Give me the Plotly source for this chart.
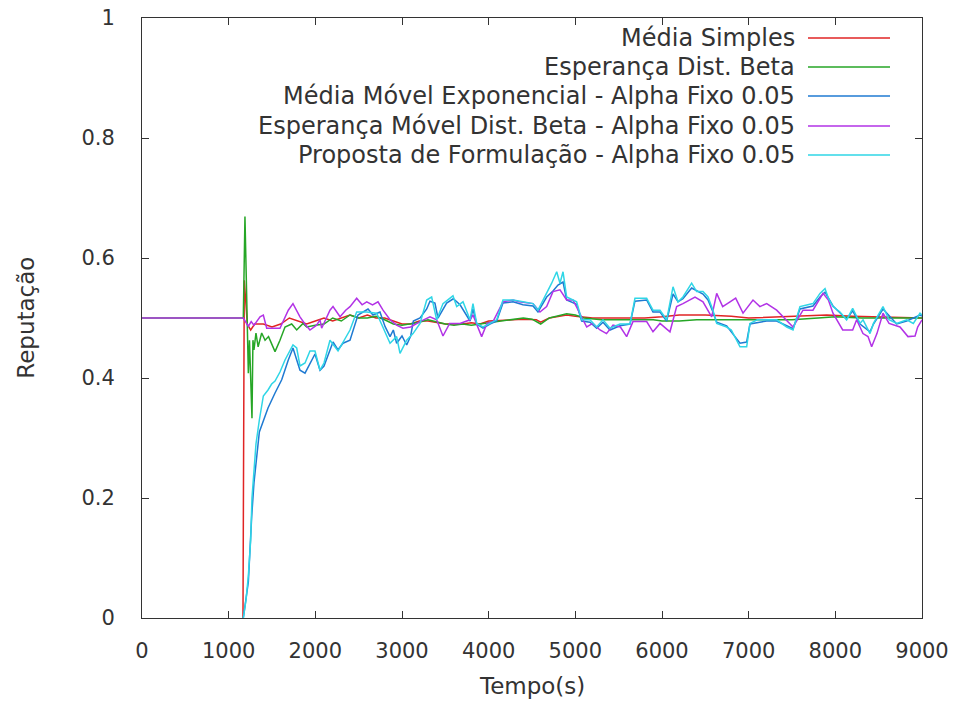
import plotly.graph_objects as go

# ---------------- data ----------------
series_names = [
    "Média Simples",
    "Esperança Dist. Beta",
    "Média Móvel Exponencial - Alpha Fixo 0.05",
    "Esperança Móvel Dist. Beta - Alpha Fixo 0.05",
    "Proposta de Formulação - Alpha Fixo 0.05",
]

t_media = [1165, 1180, 1215, 1254, 1300, 1400, 1500, 1600, 1700, 1800, 1900, 2000, 2100, 2200,
           2300, 2400, 2500, 2600, 2700, 2800, 2900, 3000, 3100, 3200, 3300, 3400, 3500, 3600,
           3700, 3800, 3900, 4000, 4200, 4400, 4550, 4600, 4700, 4800, 4900, 5000, 5200, 5400,
           5600, 5800, 6000, 6200, 6500, 6800, 7000, 7300, 7600, 7900, 8200, 8500, 8800, 9000]
v_media = [0.0, 0.563, 0.49, 0.48, 0.49, 0.49, 0.485, 0.49, 0.5, 0.495, 0.49, 0.495, 0.5, 0.495,
           0.5, 0.505, 0.5, 0.505, 0.5, 0.5, 0.495, 0.49, 0.49, 0.495, 0.495, 0.493, 0.49, 0.49,
           0.49, 0.492, 0.49, 0.495, 0.497, 0.498, 0.497, 0.493, 0.5, 0.503, 0.505, 0.503, 0.5, 0.5,
           0.5, 0.5, 0.502, 0.505, 0.505, 0.503, 0.5, 0.502, 0.503, 0.505, 0.503, 0.502, 0.5, 0.5]

t_beta = [0, 1169, 1188, 1215, 1227, 1240, 1254, 1269, 1280, 1292, 1315, 1340, 1381, 1420, 1460,
          1496, 1535, 1592, 1650, 1727, 1785, 1858, 1900, 2000, 2100, 2200, 2300, 2400, 2500,
          2600, 2700, 2800, 2900, 3000, 3100, 3200, 3300, 3400, 3500, 3600, 3700, 3800, 3900,
          4000, 4200, 4400, 4500, 4600, 4700, 4800, 4900, 5000, 5100, 5300, 5500, 5700, 5900,
          6000, 6200, 6400, 6600, 6800, 7000, 7200, 7500, 7800, 8000, 8300, 8600, 9000]
v_beta = [0.5, 0.5, 0.669, 0.475, 0.408, 0.463, 0.397, 0.333, 0.463, 0.447, 0.475, 0.452, 0.475,
          0.463, 0.469, 0.458, 0.444, 0.463, 0.485, 0.49, 0.48, 0.491, 0.485, 0.488, 0.49, 0.5,
          0.495, 0.505, 0.5, 0.5, 0.503, 0.497, 0.49, 0.488, 0.49, 0.493, 0.497, 0.493, 0.49,
          0.488, 0.49, 0.488, 0.49, 0.493, 0.497, 0.5, 0.498, 0.49, 0.5, 0.503, 0.507, 0.505,
          0.5, 0.497, 0.497, 0.498, 0.497, 0.495, 0.495, 0.497, 0.497, 0.497, 0.498, 0.497,
          0.497, 0.5, 0.502, 0.5, 0.5, 0.5]

t_mme = [1169, 1227, 1266, 1292, 1354, 1400, 1454, 1535, 1612, 1688, 1742, 1823, 1881, 1996,
         2054, 2100, 2204, 2262, 2319, 2400, 2435, 2492, 2608, 2665, 2746, 2804, 2862, 2900,
         2938, 3000, 3054, 3100, 3131, 3208, 3285, 3323, 3380, 3415, 3515, 3592, 3670, 3785,
         3819, 3862, 3935, 4015, 4093, 4165, 4281, 4396, 4512, 4569, 4669, 4742, 4800, 4858,
         4900, 5015, 5073, 5169, 5246, 5319, 5400, 5515, 5631, 5688, 5823, 5896, 5977, 6054,
         6127, 6185, 6242, 6342, 6473, 6531, 6588, 6631, 6746, 6900, 6977, 7015, 7208, 7323,
         7439, 7512, 7592, 7742, 7823, 7881, 7973, 8054, 8130, 8200, 8285, 8400, 8440, 8550,
         8708, 8823, 8977, 9000]
v_mme = [0.0, 0.06, 0.17, 0.225, 0.31, 0.33, 0.35, 0.375, 0.397, 0.43, 0.45, 0.413, 0.408, 0.44,
         0.413, 0.42, 0.46, 0.447, 0.458, 0.463, 0.48, 0.505, 0.515, 0.505, 0.51, 0.486, 0.469,
         0.48, 0.458, 0.47, 0.455, 0.47, 0.495, 0.5, 0.515, 0.528, 0.525, 0.5, 0.525, 0.532,
         0.522, 0.495, 0.515, 0.49, 0.483, 0.49, 0.495, 0.525, 0.527, 0.522, 0.52, 0.51, 0.535,
         0.545, 0.555, 0.56, 0.53, 0.523, 0.495, 0.493, 0.483, 0.493, 0.48, 0.487, 0.49, 0.528,
         0.53, 0.51, 0.51, 0.495, 0.54, 0.527, 0.532, 0.55, 0.54, 0.53, 0.51, 0.493, 0.487,
         0.458, 0.46, 0.49, 0.495, 0.495, 0.487, 0.482, 0.515, 0.52, 0.535, 0.543, 0.52, 0.508,
         0.498, 0.512, 0.49, 0.477, 0.49, 0.515, 0.49, 0.495, 0.505, 0.503]

t_emb = [0, 1169, 1227, 1260, 1292, 1362, 1400, 1439, 1592, 1650, 1688, 1742, 1823, 1880, 1938,
         2015, 2054, 2073, 2169, 2204, 2285, 2350, 2400, 2477, 2540, 2593, 2660, 2723, 2781,
         2862, 2938, 3011, 3100, 3208, 3323, 3400, 3473, 3550, 3669, 3785, 3819, 3919, 3980,
         4050, 4165, 4281, 4350, 4512, 4592, 4669, 4742, 4823, 4900, 4973, 5054, 5131, 5200,
         5285, 5360, 5435, 5520, 5592, 5665, 5823, 5896, 5977, 6092, 6169, 6242, 6381, 6473,
         6573, 6631, 6700, 6785, 6850, 6935, 7050, 7130, 7208, 7323, 7396, 7512, 7627, 7742,
         7858, 7920, 7973, 8085, 8200, 8246, 8319, 8377, 8419, 8480, 8550, 8620, 8746, 8838,
         8920, 8950, 9000]
v_emb = [0.5, 0.5, 0.486, 0.494, 0.488, 0.502, 0.505, 0.483, 0.483, 0.502, 0.513, 0.524, 0.502,
         0.49, 0.48, 0.488, 0.497, 0.483, 0.513, 0.519, 0.502, 0.513, 0.519, 0.533, 0.522, 0.527,
         0.522, 0.527, 0.513, 0.497, 0.488, 0.483, 0.485, 0.494, 0.502, 0.497, 0.47, 0.491,
         0.491, 0.497, 0.505, 0.469, 0.491, 0.494, 0.527, 0.53, 0.527, 0.524, 0.51, 0.519,
         0.544, 0.547, 0.53, 0.53, 0.508, 0.485, 0.491, 0.48, 0.474, 0.488, 0.485, 0.469, 0.494,
         0.494, 0.477, 0.491, 0.477, 0.519, 0.524, 0.535, 0.527, 0.502, 0.541, 0.519, 0.527,
         0.533, 0.508, 0.53, 0.519, 0.524, 0.513, 0.502, 0.485, 0.513, 0.513, 0.541, 0.53,
         0.508, 0.48, 0.48, 0.497, 0.474, 0.469, 0.452, 0.474, 0.508, 0.491, 0.485, 0.469,
         0.47, 0.485, 0.497]

t_prop = [1169, 1200, 1227, 1254, 1269, 1292, 1315, 1354, 1400, 1454, 1496, 1535, 1592, 1650,
          1688, 1742, 1785, 1823, 1881, 1938, 1996, 2054, 2100, 2169, 2262, 2319, 2400, 2477,
          2593, 2708, 2781, 2862, 2938, 2977, 3054, 3127, 3208, 3285, 3342, 3400, 3473, 3588,
          3631, 3704, 3785, 3819, 3862, 3935, 4015, 4093, 4165, 4281, 4396, 4512, 4569, 4669,
          4727, 4785, 4823, 4858, 4900, 4973, 5015, 5073, 5169, 5246, 5319, 5400, 5515, 5631,
          5688, 5823, 5896, 5977, 6054, 6127, 6185, 6242, 6342, 6400, 6473, 6531, 6588, 6631,
          6746, 6800, 6900, 6977, 7015, 7100, 7208, 7323, 7439, 7512, 7592, 7742, 7823, 7881,
          7920, 7973, 8054, 8130, 8200, 8285, 8320, 8400, 8440, 8550, 8620, 8708, 8823, 8900,
          8977, 9000]
v_prop = [0.0, 0.03, 0.07, 0.13, 0.2, 0.24, 0.29, 0.33, 0.37, 0.38, 0.39, 0.395, 0.41, 0.43,
          0.44, 0.455, 0.45, 0.42, 0.425, 0.445, 0.445, 0.413, 0.425, 0.463, 0.445, 0.46, 0.48,
          0.51, 0.51, 0.508, 0.485, 0.458, 0.469, 0.441, 0.463, 0.474, 0.491, 0.53, 0.535,
          0.497, 0.524, 0.537, 0.519, 0.527, 0.497, 0.524, 0.491, 0.485, 0.491, 0.497, 0.53,
          0.53, 0.527, 0.524, 0.513, 0.541, 0.558, 0.577, 0.558, 0.577, 0.535, 0.53, 0.527,
          0.497, 0.497, 0.485, 0.497, 0.483, 0.49, 0.49, 0.533, 0.533, 0.513, 0.513, 0.497,
          0.552, 0.527, 0.535, 0.558, 0.544, 0.544, 0.535, 0.513, 0.491, 0.485, 0.48, 0.452,
          0.452, 0.491, 0.497, 0.497, 0.497, 0.485, 0.48, 0.519, 0.524, 0.541, 0.549, 0.533,
          0.519, 0.51, 0.497, 0.516, 0.491, 0.497, 0.474, 0.491, 0.519, 0.497, 0.491, 0.497,
          0.491, 0.508, 0.505]

x_ticks = [0, 1000, 2000, 3000, 4000, 5000, 6000, 7000, 8000, 9000]
y_ticks = [0, 0.2, 0.4, 0.6, 0.8, 1]

colors = ["#e02424", "#26a626", "#1f7ad2", "#b233e6", "#2fd6e6"]
xs = [t_media, t_beta, t_mme, t_emb, t_prop]
ys = [v_media, v_beta, v_mme, v_emb, v_prop]

FONT = "DejaVu Sans"
TXT = "#333333"

fig = go.Figure()
for name, x, y, c in zip(series_names, xs, ys, colors):
    fig.add_trace(go.Scatter(x=x, y=y, mode="lines", name=name,
                             line=dict(color=c, width=1.5), showlegend=False))

# custom gnuplot-style legend (text right-aligned, key line on the right)
row_y = [0.9667, 0.9183, 0.870, 0.820, 0.7717]
for name, c, yy in zip(series_names, colors, row_y):
    fig.add_annotation(x=0.8397, y=yy, xref="paper", yref="paper", text=name,
                       showarrow=False, xanchor="right", yanchor="middle",
                       font=dict(family=FONT, size=24, color=TXT))
    fig.add_shape(type="line", xref="paper", yref="paper", x0=0.8538, x1=0.959,
                  y0=yy, y1=yy, line=dict(color=c, width=1.5))

axis_common = dict(showline=True, linecolor="#333333", linewidth=1, mirror="ticks",
                   ticks="inside", ticklen=7, tickcolor="#333333", showgrid=False,
                   zeroline=False, automargin=False,
                   tickfont=dict(family=FONT, size=21, color=TXT))

fig.update_xaxes(range=[0, 9000], tickvals=x_ticks, ticktext=[str(v) for v in x_ticks],
                 ticklabelstandoff=14, **axis_common)
fig.update_yaxes(range=[0, 1], tickvals=y_ticks, ticktext=["0", "0.2", "0.4", "0.6", "0.8", "1"],
                 ticklabelstandoff=22, **axis_common)

fig.add_annotation(x=0.5, y=-0.113, xref="paper", yref="paper", text="Tempo(s)",
                   showarrow=False, xanchor="center", yanchor="middle",
                   font=dict(family=FONT, size=23, color=TXT))
fig.add_annotation(x=-0.149, y=0.5, xref="paper", yref="paper", text="Reputação",
                   showarrow=False, textangle=-90, xanchor="center", yanchor="middle",
                   font=dict(family=FONT, size=23, color=TXT))

fig.update_layout(width=957, height=703, margin=dict(l=142, r=35, t=18, b=85),
                  paper_bgcolor="white", plot_bgcolor="white", showlegend=False)

fig.write_html("out.html")
